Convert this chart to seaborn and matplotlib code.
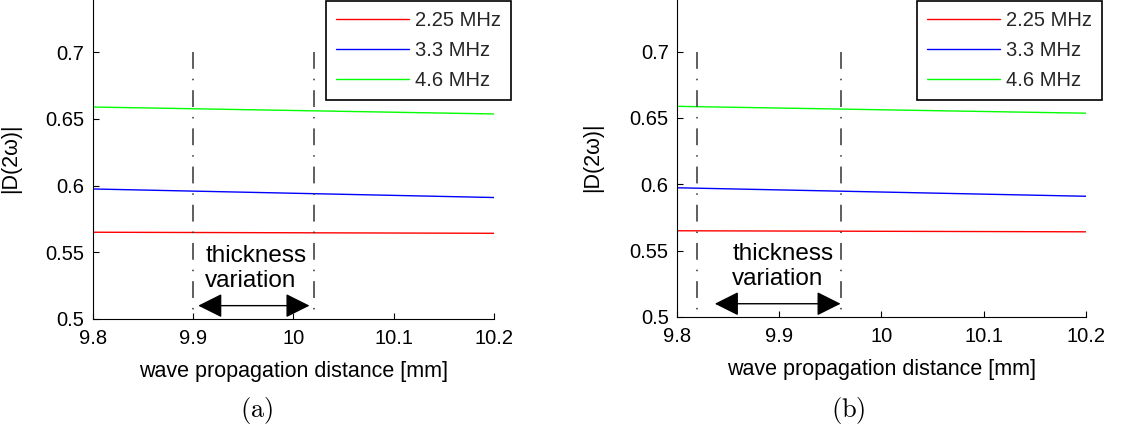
import numpy as np
import pandas as pd
import matplotlib
matplotlib.use("Agg")
import matplotlib.pyplot as plt
import seaborn as sns

# ---- data ----
x_mm = [9.8, 9.9, 10.0, 10.1, 10.2]
d_225 = [0.5650, 0.5648, 0.5646, 0.5644, 0.5642]
d_33 = [0.5974, 0.5958, 0.5942, 0.5926, 0.5910]
d_46 = [0.6588, 0.6575, 0.6562, 0.6549, 0.6536]
series_names = ["2.25 MHz", "3.3 MHz", "4.6 MHz"]
series_colors = ["#ff0000", "#0000ff", "#00ff00"]

x_ticks = [9.8, 9.9, 10.0, 10.1, 10.2]
x_ticklabels = ["9.8", "9.9", "10", "10.1", "10.2"]
y_ticks = [0.5, 0.55, 0.6, 0.65, 0.7]
y_ticklabels = ["0.5", "0.55", "0.6", "0.65", "0.7"]

# thickness-variation markers per panel
vlines_a = [9.9, 10.02]
vlines_b = [9.82, 9.96]
arrow_a = [9.905, 10.016]
arrow_b = [9.837, 9.96]
text_x_a = 9.912
text_x_b = 9.854
panel_labels = ["(a)", "(b)"]

# ---- styling ----
sns.set_theme(style="white")
plt.rcParams["font.family"] = ["Liberation Sans", "DejaVu Sans"]
plt.rcParams["mathtext.fontset"] = "cm"

df = pd.DataFrame({
    "x": x_mm * 3,
    "y": d_225 + d_33 + d_46,
    "freq": [series_names[0]] * 5 + [series_names[1]] * 5 + [series_names[2]] * 5,
})

fig = plt.figure(figsize=(11.24, 4.33), dpi=100)
ax_a = fig.add_axes([0.0827, 0.2633, 0.3568, 0.7707])
ax_b = fig.add_axes([0.6023, 0.2679, 0.3639, 0.7660])

panels = [
    (ax_a, vlines_a, arrow_a, text_x_a, 511 / 1124, panel_labels[0], 257 / 1124),
    (ax_b, vlines_b, arrow_b, text_x_b, 1102 / 1124, panel_labels[1], 848 / 1124),
]

for ax, vl, arr, tx, leg_right, plab, plab_x in panels:
    sns.lineplot(data=df, x="x", y="y", hue="freq", palette=series_colors,
                 linewidth=1.0, ax=ax, legend=True)
    ax.set_xlim(9.8, 10.2)
    ax.set_ylim(0.5, 0.75)
    ax.set_xticks(x_ticks)
    ax.set_xticklabels(x_ticklabels)
    ax.set_yticks(y_ticks)
    ax.set_yticklabels(y_ticklabels)
    ax.tick_params(axis="both", direction="in", length=4, width=0.8,
                   color="black", labelsize=14.5, labelcolor="black",
                   left=True, bottom=True, right=False, top=False)
    ax.tick_params(axis="y", pad=6)
    ax.tick_params(axis="x", pad=7)
    for s in ["top", "right"]:
        ax.spines[s].set_visible(False)
    for s in ["left", "bottom"]:
        ax.spines[s].set_color("black")
        ax.spines[s].set_linewidth(0.8)
    ax.set_xlabel("wave propagation distance [mm]", fontsize=15.5, color="black")
    ax.set_ylabel("|D(2ω)|", fontsize=15.5, color="black")
    ax.xaxis.set_label_coords(0.5, -0.127)
    ax.yaxis.set_label_coords(-0.18, 0.482)

    for xv in vl:
        ax.plot([xv, xv], [0.7, 0.5], color="#333333", linewidth=1.1,
                dashes=(11, 6.5, 1, 6.5))

    ax.annotate("", xy=(arr[1], 0.51), xytext=(arr[0], 0.51),
                arrowprops=dict(arrowstyle="<|-|>,head_length=1.0,head_width=0.5",
                                mutation_scale=15, color="black", lw=1.0,
                                shrinkA=0, shrinkB=0))
    ax.text(tx, 0.538, "thickness\nvariation", fontsize=17.5, ha="left",
            va="center", color="black", linespacing=1.2)

    handles, labels = ax.get_legend_handles_labels()
    leg = ax.legend(handles, labels, loc="upper right",
                    bbox_to_anchor=(leg_right, 1 - 1 / 433),
                    bbox_transform=fig.transFigure, fontsize=14.5,
                    frameon=True, fancybox=False, framealpha=1,
                    edgecolor="black", handlelength=3.6, handletextpad=0.3,
                    borderpad=0.5, labelspacing=0.55, borderaxespad=0)
    leg.get_frame().set_linewidth(1.2)

    fig.text(plab_x, 1 - 411 / 433, r"$\mathrm{" + plab + "}$", fontsize=19,
             ha="center", va="center", color="black")

fig.savefig("out.png", dpi=100)
